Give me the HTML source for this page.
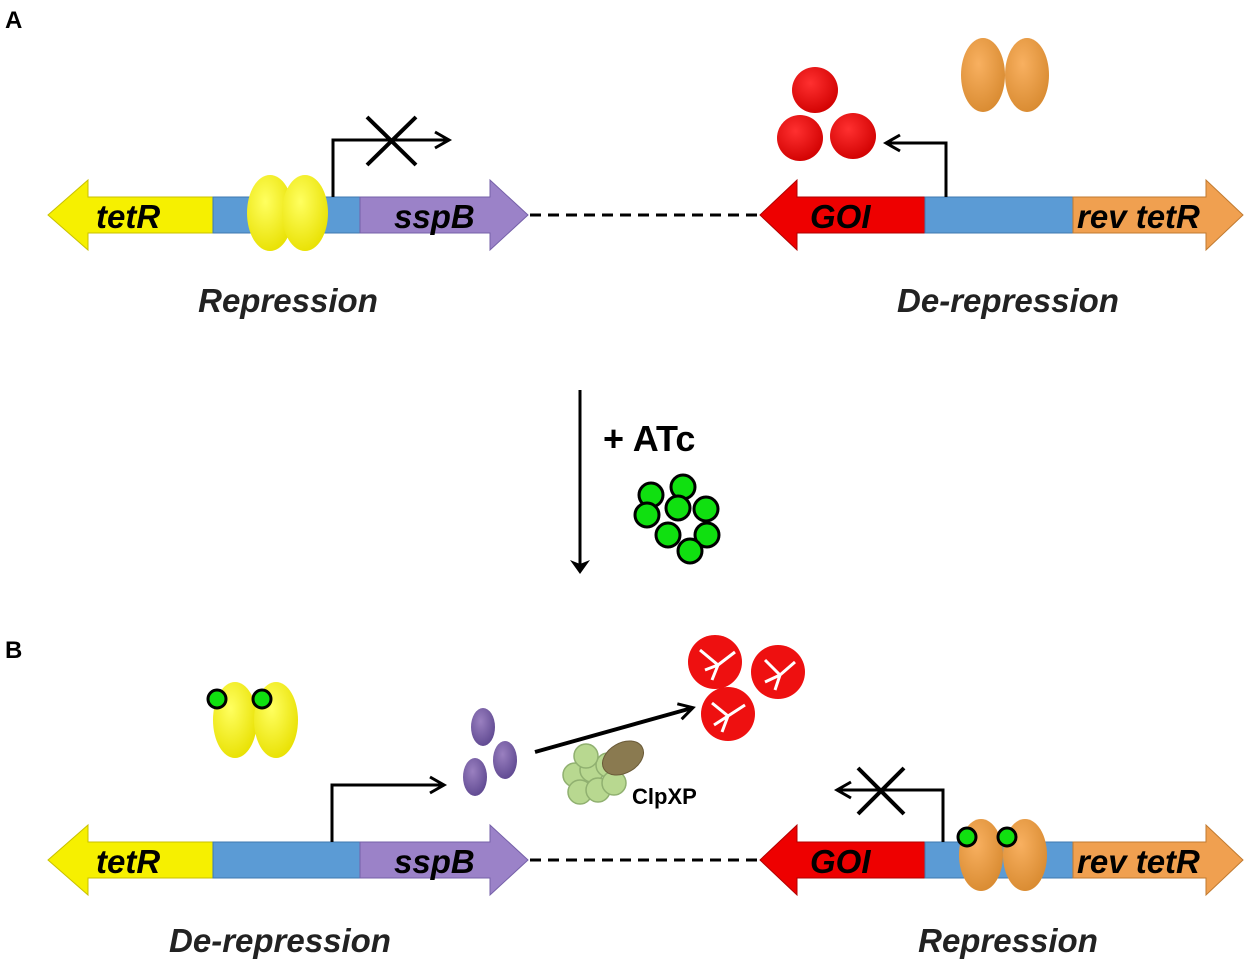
<!DOCTYPE html>
<html><head><meta charset="utf-8"><style>body{margin:0;background:#fff}svg{display:block}text{font-family:"Liberation Sans",Arial,sans-serif}</style></head><body>
<svg width="1250" height="965" viewBox="0 0 1250 965" xmlns="http://www.w3.org/2000/svg">
<defs>
<marker id="ah" markerWidth="20" markerHeight="20" refX="15" refY="10" orient="auto" markerUnits="userSpaceOnUse"><path d="M2,2 L16,10 L2,18" fill="none" stroke="#000" stroke-width="3"/></marker>
<marker id="ah2" markerWidth="24" markerHeight="24" refX="12" refY="12" orient="auto" markerUnits="userSpaceOnUse"><path d="M0,2 L14,12 L0,22 L4,12 Z" fill="#000"/></marker>
<radialGradient id="gy" cx="0.4" cy="0.35" r="0.7"><stop offset="0" stop-color="#ffff60"/><stop offset="1" stop-color="#e8e000"/></radialGradient>
<radialGradient id="go" cx="0.4" cy="0.35" r="0.7"><stop offset="0" stop-color="#f8b060"/><stop offset="1" stop-color="#d88a30"/></radialGradient>
<radialGradient id="gr" cx="0.4" cy="0.35" r="0.7"><stop offset="0" stop-color="#ff3030"/><stop offset="1" stop-color="#d00000"/></radialGradient>
<radialGradient id="gp" cx="0.4" cy="0.35" r="0.7"><stop offset="0" stop-color="#9a80c0"/><stop offset="1" stop-color="#5e4890"/></radialGradient>
<g id="row">
<path d="M48,215 L88,180 L88,197 L213,197 L213,233 L88,233 L88,250 Z" fill="#f6f000" stroke="#c8c000"/>
<rect x="213" y="197" width="150" height="36" fill="#5b9bd5" stroke="#3f78b0"/>
<path d="M528,215 L490,180 L490,197 L360,197 L360,233 L490,233 L490,250 Z" fill="#9b82c8" stroke="#7560a8"/>
<line x1="530" y1="215" x2="757" y2="215" stroke="#000" stroke-width="3" stroke-dasharray="11,7"/>
<path d="M760,215 L797,180 L797,197 L925,197 L925,233 L797,233 L797,250 Z" fill="#ee0000" stroke="#b00000"/>
<rect x="925" y="197" width="148" height="36" fill="#5b9bd5" stroke="#3f78b0"/>
<path d="M1243,215 L1206,180 L1206,197 L1073,197 L1073,233 L1206,233 L1206,250 Z" fill="#f0a050" stroke="#c07a30"/>
<text x="96" y="228" font-size="33" font-weight="bold" font-style="italic">tetR</text>
<text x="394" y="228" font-size="33" font-weight="bold" font-style="italic">sspB</text>
<text x="810" y="228" font-size="33" font-weight="bold" font-style="italic">GOI</text>
<text x="1077" y="228" font-size="33" font-weight="bold" font-style="italic">rev tetR</text>
</g>
</defs>
<text x="5" y="28" font-size="24" font-weight="bold">A</text>
<use href="#row"/>
<ellipse cx="270" cy="213" rx="23" ry="38" fill="url(#gy)"/>
<ellipse cx="305" cy="213" rx="23" ry="38" fill="url(#gy)"/>
<path d="M333,197 V140 H448" fill="none" stroke="#000" stroke-width="3" marker-end="url(#ah)"/>
<path d="M367,117 L416,165 M367,165 L416,117" stroke="#000" stroke-width="4"/>
<path d="M946,197 V143 H887" fill="none" stroke="#000" stroke-width="3" marker-end="url(#ah)"/>
<circle cx="815" cy="90" r="23" fill="url(#gr)"/>
<circle cx="800" cy="138" r="23" fill="url(#gr)"/>
<circle cx="853" cy="136" r="23" fill="url(#gr)"/>
<ellipse cx="983" cy="75" rx="22" ry="37" fill="url(#go)"/>
<ellipse cx="1027" cy="75" rx="22" ry="37" fill="url(#go)"/>
<text x="288" y="312" font-size="33" font-weight="bold" font-style="italic" text-anchor="middle" fill="#222">Repression</text>
<text x="1008" y="312" font-size="33" font-weight="bold" font-style="italic" text-anchor="middle" fill="#222">De-repression</text>
<line x1="580" y1="390" x2="580" y2="572" stroke="#000" stroke-width="3" marker-end="url(#ah2)"/>
<text x="603" y="451" font-size="36" font-weight="bold">+ ATc</text>
<g fill="#10e010" stroke="#000" stroke-width="3">
<circle cx="651" cy="495" r="12"/><circle cx="683" cy="487" r="12"/><circle cx="647" cy="515" r="12"/><circle cx="678" cy="508" r="12"/><circle cx="706" cy="509" r="12"/><circle cx="668" cy="535" r="12"/><circle cx="707" cy="535" r="12"/><circle cx="690" cy="551" r="12"/>
</g>
<text x="5" y="658" font-size="24" font-weight="bold">B</text>
<use href="#row" y="645"/>
<ellipse cx="235" cy="720" rx="22" ry="38" fill="url(#gy)"/>
<ellipse cx="276" cy="720" rx="22" ry="38" fill="url(#gy)"/>
<circle cx="217" cy="699" r="9" fill="#10e010" stroke="#000" stroke-width="3"/>
<circle cx="262" cy="699" r="9" fill="#10e010" stroke="#000" stroke-width="3"/>
<path d="M332,842 V785 H443" fill="none" stroke="#000" stroke-width="3" marker-end="url(#ah)"/>
<ellipse cx="483" cy="727" rx="12" ry="19" fill="url(#gp)"/>
<ellipse cx="505" cy="760" rx="12" ry="19" fill="url(#gp)"/>
<ellipse cx="475" cy="777" rx="12" ry="19" fill="url(#gp)"/>
<line x1="535" y1="752" x2="692" y2="708" stroke="#000" stroke-width="4" marker-end="url(#ah)"/>
<g fill="#b8d890" stroke="#90b070" stroke-width="1.5">
<circle cx="575" cy="775" r="12"/><circle cx="592" cy="770" r="12"/><circle cx="608" cy="765" r="12"/><circle cx="580" cy="792" r="12"/><circle cx="598" cy="790" r="12"/><circle cx="614" cy="783" r="12"/><circle cx="586" cy="756" r="12"/>
</g>
<ellipse cx="623" cy="758" rx="22" ry="15" transform="rotate(-30 623 758)" fill="#8a7a50" stroke="#6a5a38"/>
<text x="632" y="804" font-size="22" font-weight="bold">ClpXP</text>
<g fill="#ee1010">
<circle cx="715" cy="662" r="27"/><circle cx="778" cy="672" r="27"/><circle cx="728" cy="714" r="27"/>
</g>
<g stroke="#fff" stroke-width="3" fill="none">
<path d="M700,650 L718,665 L712,680 M718,665 L735,652 M705,670 L718,665"/>
<path d="M765,660 L780,675 L775,690 M780,675 L795,662 M765,682 L780,675"/>
<path d="M712,703 L728,716 L722,732 M728,716 L745,705 M714,725 L728,716"/>
</g>
<ellipse cx="981" cy="855" rx="22" ry="36" fill="url(#go)"/>
<ellipse cx="1025" cy="855" rx="22" ry="36" fill="url(#go)"/>
<circle cx="967" cy="837" r="9" fill="#10e010" stroke="#000" stroke-width="3"/>
<circle cx="1007" cy="837" r="9" fill="#10e010" stroke="#000" stroke-width="3"/>
<path d="M943,842 V790 H838" fill="none" stroke="#000" stroke-width="3" marker-end="url(#ah)"/>
<path d="M858,768 L904,814 M858,814 L904,768" stroke="#000" stroke-width="4"/>
<text x="280" y="952" font-size="33" font-weight="bold" font-style="italic" text-anchor="middle" fill="#222">De-repression</text>
<text x="1008" y="952" font-size="33" font-weight="bold" font-style="italic" text-anchor="middle" fill="#222">Repression</text>
</svg>
</body></html>
